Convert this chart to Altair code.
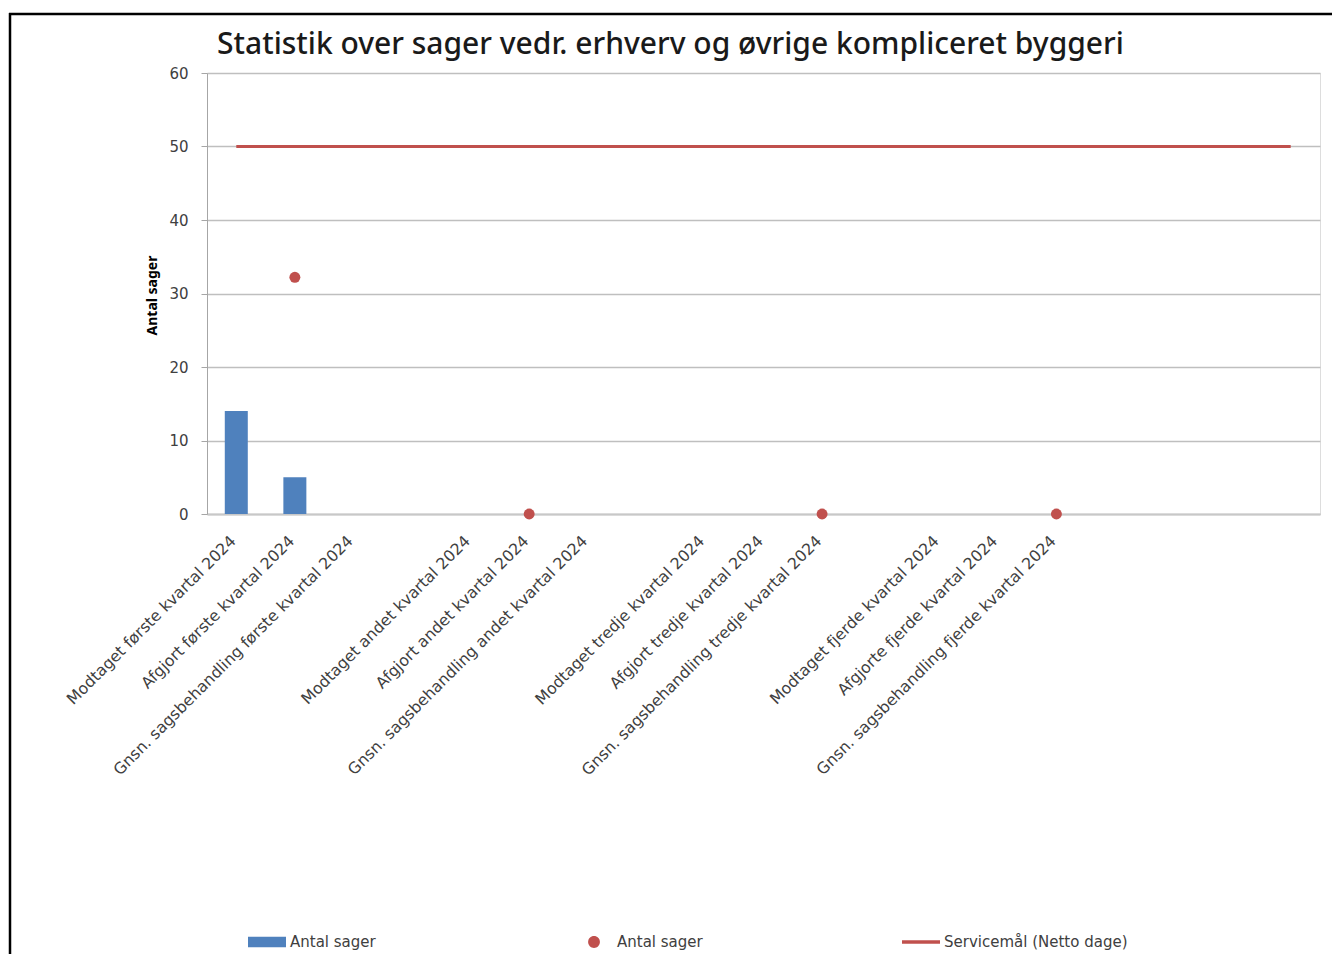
import altair as alt
import pandas as pd

categories = [
    "Modtaget første kvartal  2024",
    "Afgjort første kvartal 2024",
    "Gnsn. sagsbehandling første kvartal 2024",
    " ",
    "Modtaget andet kvartal  2024",
    "Afgjort andet kvartal 2024",
    "Gnsn. sagsbehandling andet kvartal 2024",
    "  ",
    "Modtaget tredje kvartal 2024",
    "Afgjort tredje kvartal 2024",
    "Gnsn. sagsbehandling tredje kvartal 2024",
    "   ",
    "Modtaget fjerde kvartal 2024",
    "Afgjorte fjerde kvartal 2024",
    "Gnsn. sagsbehandling fjerde kvartal 2024",
    "    ",
    "     ",
    "      ",
    "       ",
]
bar_values = [14, 5, None, None, None, None, None, None, None, None,
              None, None, None, None, None, None, None, None, None]
dot_values = [None, 32.2, None, None, None, 0, None, None, None, None,
              0, None, None, None, 0, None, None, None, None]
service_values = [50, 50, 50, 50, 50, 50, 50, 50, 50, 50,
                  50, 50, 50, 50, 50, 50, 50, 50, 50]
y_ticks = [0, 10, 20, 30, 40, 50, 60]

legend_keys = ["bar", "dot", "line"]
legend_labels = ["Antal sager", "Antal sager", "Servicemål (Netto dage)"]

df = pd.DataFrame({
    "kategori": categories,
    "bar": bar_values,
    "dot": dot_values,
    "service": service_values,
})
legend_df = pd.DataFrame({"serie": legend_keys, "label": legend_labels})

BLUE = "#4F81BD"
RED = "#C0504D"
FONT = "Noto Sans"
FONT2 = "DejaVu Sans"

x_enc = alt.X(
    "kategori:N",
    sort=categories,
    scale=alt.Scale(domain=categories, paddingInner=0, paddingOuter=0),
    axis=alt.Axis(
        title=None,
        ticks=False,
        grid=False,
        labelAngle=-45,
        labelAlign="right",
        labelBaseline="middle",
        labelFontSize=15.8,
        labelColor="#404040",
        labelFont=FONT2,
        labelPadding=24,
        labelOffset=-3,
        domainColor="#c8c8c8",
        domainWidth=2,
        labelOverlap=False,
        labelLimit=400,
    ),
)
y_scale = alt.Scale(domain=[0, 60], nice=False)
y_axis = alt.Axis(
    title="Antal sager",
    values=y_ticks,
    titleFontSize=14,
    titleFontWeight="bold",
    titleFont=FONT,
    titleColor="#000000",
    titleAngle=-90,
    titleX=-55,
    titleY=222,
    titleAlign="center",
    titleBaseline="middle",
    labelFontSize=15,
    labelColor="#404040",
    labelFont=FONT2,
    labelPadding=13,
    tickSize=6,
    tickColor="#a6a6a6",
    domainColor="#a6a6a6",
    gridColor="#bfbfbf",
    gridWidth=1.5,
)

bars = alt.Chart(df).transform_filter("isValid(datum.bar)").mark_bar(
    size=23, color=BLUE
).encode(
    x=x_enc,
    y=alt.Y("bar:Q", scale=y_scale, axis=y_axis),
)

service = alt.Chart(df).mark_line(color=RED, strokeWidth=3).encode(
    x=alt.X("kategori:N", sort=categories),
    y=alt.Y("service:Q", scale=y_scale),
)

dots = alt.Chart(df).transform_filter("isValid(datum.dot)").mark_circle(
    size=120, color=RED, opacity=1
).encode(
    x=alt.X("kategori:N", sort=categories),
    y=alt.Y("dot:Q", scale=y_scale),
)

label_expr = (
    "datum.value == 'line' ? 'Servicemål (Netto dage)' : 'Antal sager'"
)
legend_props = dict(
    title=None,
    orient="none",
    legendX=41,
    legendY=850,
    direction="horizontal",
    columnPadding=199,
    symbolSize=1444,
    symbolStrokeWidth=0,
    symbolOpacity=1,
    labelFontSize=15,
    labelFont=FONT2,
    labelColor="#404040",
    labelOffset=4,
    labelLimit=400,
    padding=0,
    labelExpr=label_expr,
)
legend_layer = alt.Chart(legend_df).transform_filter("false").mark_point(
    filled=True, opacity=1
).encode(
    color=alt.Color(
        "serie:N",
        scale=alt.Scale(domain=legend_keys, range=[BLUE, RED, RED]),
        legend=alt.Legend(**legend_props),
    ),
    shape=alt.Shape(
        "serie:N",
        scale=alt.Scale(
            domain=legend_keys,
            range=[
                "M-1,-0.28H1V0.28H-1Z",
                "M-0.31,0a0.31,0.31 0 1,0 0.62,0a0.31,0.31 0 1,0 -0.62,0Z",
                "M-1,-0.09H1V0.09H-1Z",
            ],
        ),
        legend=alt.Legend(**legend_props),
    ),
)

frame_left = alt.Chart(legend_df).transform_filter("datum.serie == 'bar'").mark_rule(
    color="#000000", strokeWidth=2.5
).encode(x=alt.value(-197), y=alt.value(-60), y2=alt.value(900))
frame_top = alt.Chart(legend_df).transform_filter("datum.serie == 'bar'").mark_rule(
    color="#000000", strokeWidth=2.5
).encode(x=alt.value(-198), x2=alt.value(1125), y=alt.value(-59))

chart = alt.layer(
    bars, service, dots, legend_layer, frame_left, frame_top
).properties(
    width=1113,
    height=441,
    autosize=alt.AutoSizeParams(type="none"),
    padding={"left": 199, "top": 65, "right": 12, "bottom": 440},
    title=alt.Title(
        "Statistik over sager vedr.  erhverv og øvrige kompliceret byggeri",
        anchor="start",
        frame="group",
        dx=10,
        offset=-72,
        baseline="alphabetic",
        fontSize=30,
        font=FONT,
        fontWeight=500,
        color="#1a1a1a",
    ),
).configure_view(stroke=None).configure(background="white")

chart.save("out.html", embed_options={"renderer": "svg", "actions": False})
